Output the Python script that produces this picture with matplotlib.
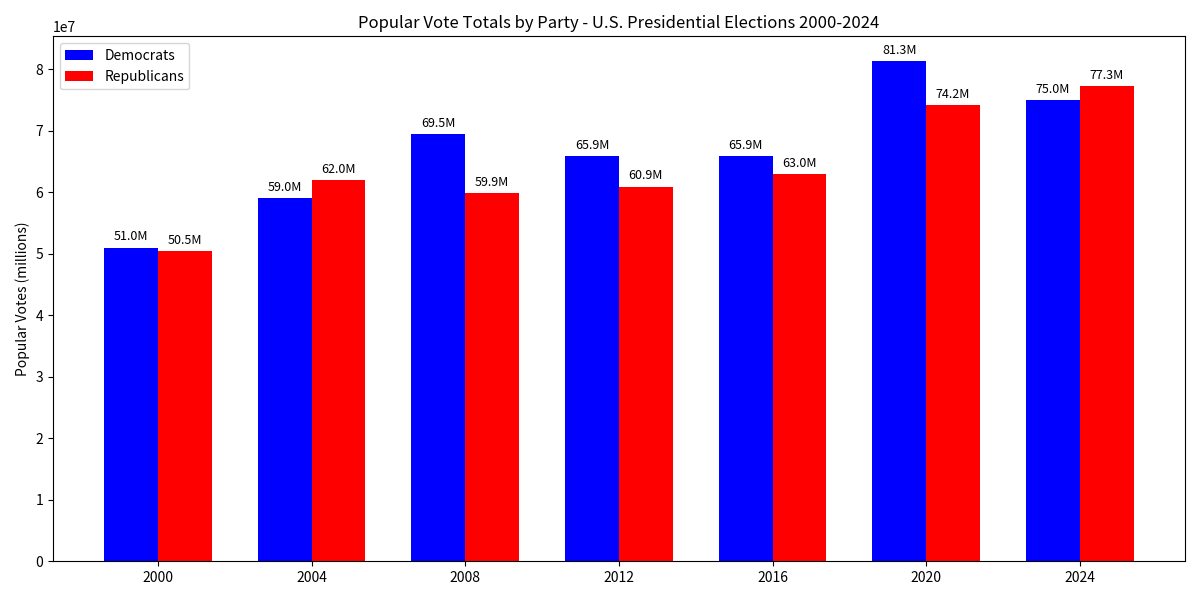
import matplotlib
matplotlib.use("Agg")
import matplotlib.pyplot as plt
import numpy as np

plt.rcParams['font.family'] = ['Noto Sans CJK SC', 'DejaVu Sans']

years = ['2000', '2004', '2008', '2012', '2016', '2020', '2024']
dem_votes = [51.0e6, 59.0e6, 69.5e6, 65.9e6, 65.9e6, 81.3e6, 75.0e6]
rep_votes = [50.5e6, 62.0e6, 59.94e6, 60.93e6, 63.0e6, 74.2e6, 77.3e6]

x = np.arange(len(years))
width = 0.35

fig, ax = plt.subplots(figsize=(12, 6), dpi=100)
b1 = ax.bar(x - width/2, dem_votes, width, label='Democrats', color='blue')
b2 = ax.bar(x + width/2, rep_votes, width, label='Republicans', color='red')

for bars in (b1, b2):
    for bar in bars:
        h = bar.get_height()
        ax.annotate(f'{h/1e6:.1f}M', xy=(bar.get_x() + bar.get_width()/2, h),
                    xytext=(0, 3), textcoords='offset points',
                    ha='center', va='bottom', fontsize=9)

ax.set_ylabel('Popular Votes (millions)')
ax.set_title('Popular Vote Totals by Party - U.S. Presidential Elections 2000-2024')
ax.set_xticks(x)
ax.set_xticklabels(years)
ax.legend(loc='upper left')
fig.tight_layout()
fig.savefig('out.png')
